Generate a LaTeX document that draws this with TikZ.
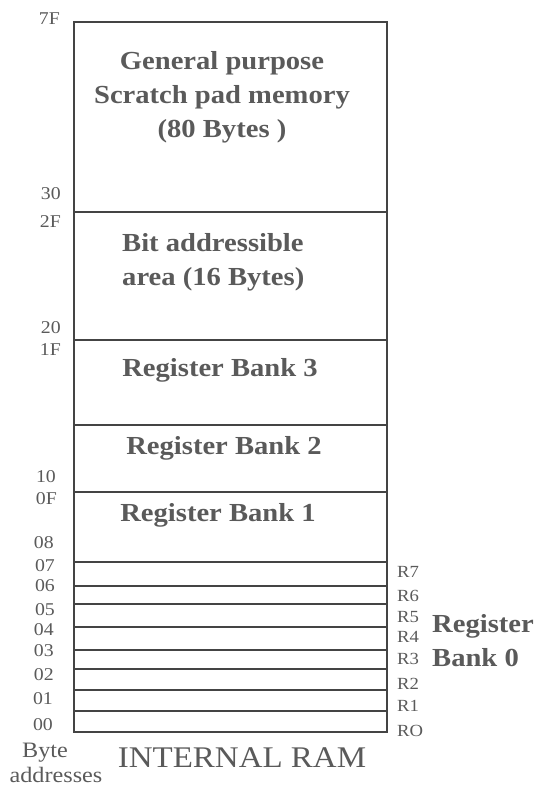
\documentclass[tikz,border=0pt]{standalone}
\usepackage{fontspec}
\setmainfont[FakeStretch=1.1]{Liberation Serif}
\usepackage{tikz}
\usetikzlibrary{positioning}

\definecolor{ink}{HTML}{5A5A5A}
\definecolor{rule}{HTML}{444444}

\tikzset{
    area/.style={text=ink, inner sep=0pt, align=center,
        font=\bfseries\fontsize{26}{34}\selectfont},
    addr/.style={text=ink, inner sep=0pt, anchor=east,
        font=\fontsize{18}{18}\selectfont},
    regname/.style={text=ink, inner sep=0pt, anchor=west,
        font=\fontsize{17}{17}\selectfont},
    wall/.style={rule, line width=1.6pt}
}

\begin{document}
\begin{tikzpicture}[x=1pt, y=-1pt]
    \useasboundingbox (0,0) rectangle (541,788);
    %% RAM block
    \draw[wall] (74,22) rectangle (387,732);
    \draw[wall]
    (74,212) to (387,212)
    (74,340) to (387,340)
    (74,425) to (387,425)
    (74,492) to (387,492);
    \foreach \y in {562,586,604,627,650,669,690,711}
        \draw[wall] (74,\y) to (387,\y);
    %% Areas
    \node[area] (scratch) at (222,97)
        {General purpose\\Scratch pad memory\\(80 Bytes )};
    \node[area, align=left, anchor=west] (bitarea) at (122,262)
        {Bit addressible\\area (16 Bytes)};
    \node[area] (bank3) at (220,370) {Register Bank 3};
    \node[area] (bank2) at (224,448) {Register Bank 2};
    \node[area] (bank1) at (218,515) {Register Bank 1};
    %% Addresses
    \foreach \a/\x/\y in {7F/60/19, 30/61/194, 2F/61/222, 20/61/328,
        1F/61/350, 10/56/477, 0F/57/499, 08/54/543, 07/55/566,
        06/55/586, 05/55/610, 04/54/630, 03/54/651, 02/54/675,
        01/53/699, 00/53/725}
        \node[addr] (addr\a) at (\x,\y) {\a};
    %% Bank 0 registers
    \foreach \r/\y in {7/572, 6/596, 5/617, 4/637, 3/659, 2/684, 1/706}
        \node[regname] (reg\r) at (397,\y) {R\r};
    \node[regname] (reg0) at (397,731) {RO};
    \node[area, align=left, anchor=west] (bank0) at (432,641)
        {Register\\Bank 0};
    %% Captions
    \node[text=ink, inner sep=0pt, font=\fontsize{22}{22}\selectfont]
        (byte) at (45,753) {Byte};
    \node[text=ink, inner sep=0pt, font=\fontsize{22}{22}\selectfont]
        (addresses) at (56,775) {addresses};
    \node[text=ink, inner sep=0pt, font=\fontsize{30}{30}\selectfont]
        (ram) at (242,758) {INTERNAL RAM};
\end{tikzpicture}
\end{document}
